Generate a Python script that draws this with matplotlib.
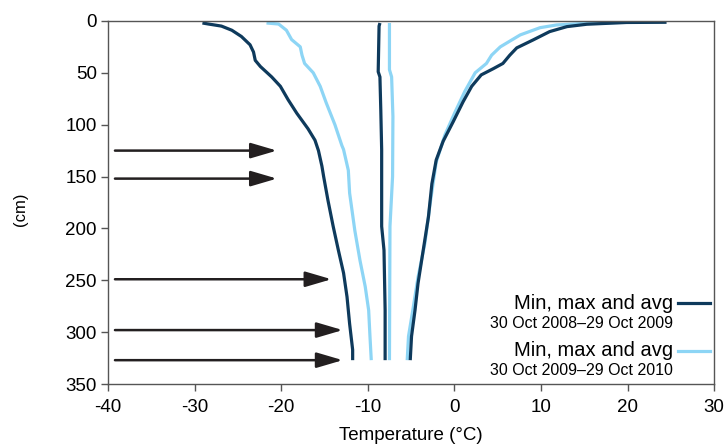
import matplotlib
matplotlib.use('Agg')
import matplotlib.pyplot as plt

plt.rcParams['font.family'] = ['Liberation Sans Narrow', 'Liberation Sans', 'DejaVu Sans']
plt.rcParams['axes.unicode_minus'] = False

DARK = '#0e3a5c'
LIGHT = '#8dd5f5'

# 30 Oct 2008 - 29 Oct 2009 (dark)
min09_t = [-29.1, -28.4, -26.9, -25.7, -24.6, -23.6, -23.2, -23.0, -22.4, -21.1, -20.1, -19.2,
           -18.2, -16.9, -16.1, -15.7, -15.3, -15.1, -14.6, -14.0, -13.4, -12.8, -12.4, -12.1,
           -11.75, -11.75]
min09_d = [2, 3, 5, 9, 15, 23, 30, 38, 44, 54, 63, 76, 89, 104, 115, 125, 140, 150, 173,
           198, 221, 243, 266, 292, 317, 327]
avg09_t = [-8.6, -8.7, -8.8, -8.6, -8.5, -8.4, -8.4, -8.13, -8.0, -8.0]
avg09_d = [2, 5, 49, 54, 86, 124, 198, 221, 279, 327]
max09_t = [24.5, 19.9, 15.3, 13.0, 11.0, 9.1, 7.2, 6.4, 5.6, 4.5, 3.1, 2.0, 1.0, -0.13,
           -1.3, -2.1, -2.6, -3.0, -3.6, -4.2, -4.55, -4.95, -5.1]
max09_d = [1.3, 1.5, 3.2, 5.5, 10.3, 18.3, 26, 33, 41, 46, 52, 63, 78, 97,
           116, 134, 157, 189, 221, 253, 279, 304, 327]

# 30 Oct 2009 - 29 Oct 2010 (light)
min10_t = [-21.7, -20.3, -19.4, -18.8, -17.8, -17.6, -17.3, -16.3, -15.5, -14.8, -13.8, -13.0,
           -12.8, -12.25, -12.1, -11.5, -10.9, -10.3, -9.9, -9.75, -9.6]
min10_d = [2, 3, 9, 18, 25, 33, 41, 50, 63, 79, 100, 120, 124, 144, 166, 202, 231, 256, 279,
           304, 327]
avg10_t = [-7.5, -7.5, -7.25, -7.1, -7.14, -7.44, -7.5]
avg10_d = [2, 47, 54, 92, 150, 198, 327]
max10_t = [19.9, 15.3, 11.8, 9.9, 7.6, 5.3, 4.3, 3.7, 2.4, 1.2, 0.07, -1.1, -2.1,
           -2.8, -3.4, -4.2, -4.75, -5.3, -5.45]
max10_d = [1.3, 2.2, 3.9, 6.5, 13.5, 25, 33, 41, 50, 68, 88, 110, 136,
           176, 214, 247, 276, 304, 327]

# arrows: depth (cm) and where the head ends (deg C)
arrow_depth = [125, 152, 249, 298, 327]
arrow_tip = [-20.5, -20.5, -14.2, -12.9, -12.9]

fig = plt.figure(figsize=(7.28, 4.45), dpi=100)
ax = fig.add_axes([0.1484, 0.137, 0.8326, 0.816])

for t, d in [(min10_t, min10_d), (avg10_t, avg10_d), (max10_t, max10_d)]:
    ax.plot(t, d, color=LIGHT, lw=2.3, solid_capstyle='butt', solid_joinstyle='round')
for t, d in [(min09_t, min09_d), (avg09_t, avg09_d), (max09_t, max09_d)]:
    ax.plot(t, d, color=DARK, lw=2.3, solid_capstyle='butt', solid_joinstyle='round')

for dep, tip in zip(arrow_depth, arrow_tip):
    ax.annotate('', xy=(tip, dep), xytext=(-39.2, dep),
                arrowprops=dict(arrowstyle='-|>,head_length=1.6,head_width=0.47',
                                color='#231f20', lw=1.8, shrinkA=0, shrinkB=0))

ax.set_xlim(-40, 30)
ax.set_ylim(350, 0)
ax.set_xticks(range(-40, 31, 10))
ax.set_yticks(range(0, 351, 50))
ax.tick_params(labelsize=13.5, length=5, width=1, color='#555555')
ax.tick_params(axis='x', pad=6)
ax.tick_params(axis='y', pad=3)
for s in ax.spines.values():
    s.set_color('#555555')
    s.set_linewidth(1)
ax.set_xlabel('Temperature (°C)', fontsize=13.5, labelpad=8)
fig.text(0.028, 0.53, '(cm)', rotation=90, fontsize=12, ha='center', va='center')

# legend
tr = ax.transAxes
ax.text(0.932, 0.222, 'Min, max and avg', transform=tr, ha='right', va='center', fontsize=14.5)
ax.text(0.932, 0.166, '30 Oct 2008\u201329 Oct 2009', transform=tr, ha='right', va='center', fontsize=11.5)
ax.plot([0.940, 0.993], [0.222, 0.222], transform=tr, color=DARK, lw=2.3)
ax.text(0.932, 0.092, 'Min, max and avg', transform=tr, ha='right', va='center', fontsize=14.5)
ax.text(0.932, 0.038, '30 Oct 2009\u201329 Oct 2010', transform=tr, ha='right', va='center', fontsize=11.5)
ax.plot([0.940, 0.993], [0.092, 0.092], transform=tr, color=LIGHT, lw=2.3)

fig.savefig('out.png', dpi=100)
